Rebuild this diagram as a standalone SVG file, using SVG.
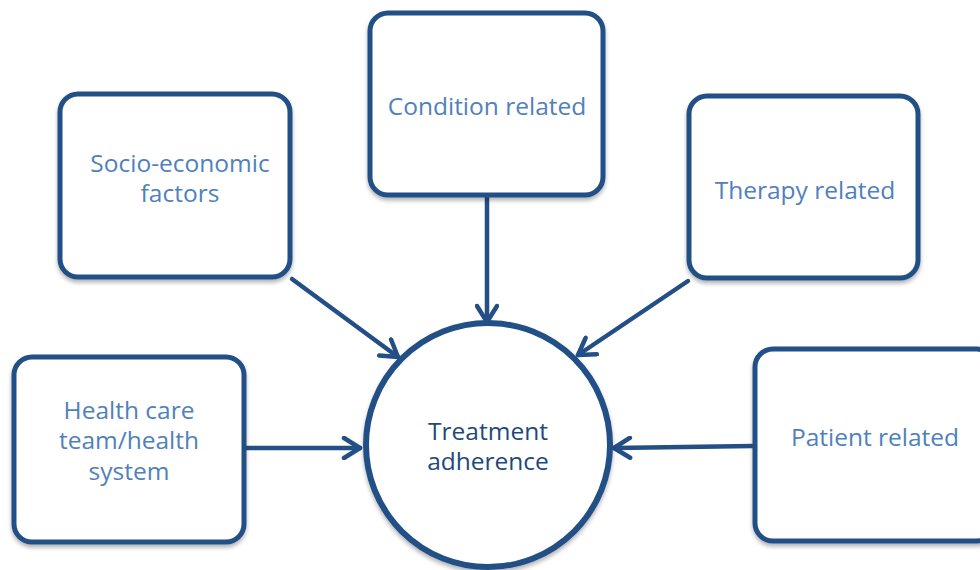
<svg xmlns="http://www.w3.org/2000/svg" width="980" height="570" viewBox="0 0 980 570">
  <style>
    .box { fill: #ffffff; stroke: #234f86; stroke-width: 5; filter: url(#shadow); }
    .hub { fill: #ffffff; stroke: #234f86; stroke-width: 6; filter: url(#shadow); }
    .lbl { font-family: "Open Sans", "Liberation Sans", sans-serif; font-size: 24.5px; fill: #4f81bd; text-anchor: middle; }
    .hubl { font-family: "Open Sans", "Liberation Sans", sans-serif; font-size: 24.5px; fill: #1f497d; text-anchor: middle; }
    .conn { fill: none; stroke: #234f86; stroke-width: 4.5; stroke-linecap: round; marker-end: url(#chev); }
  </style>
  <defs>
    <filter id="shadow" x="-10%" y="-10%" width="120%" height="125%">
      <feGaussianBlur in="SourceAlpha" stdDeviation="2"/>
      <feOffset dx="0" dy="3" result="b"/>
      <feComponentTransfer><feFuncA type="linear" slope="0.3"/></feComponentTransfer>
      <feMerge><feMergeNode/><feMergeNode in="SourceGraphic"/></feMerge>
    </filter>
    <marker id="chev" viewBox="-20 -12 24 24" markerWidth="24" markerHeight="24" refX="0" refY="0" orient="auto" markerUnits="userSpaceOnUse">
      <path d="M -16 -10 L 0 0 L -16 10" fill="none" stroke="#234f86" stroke-width="4.5" stroke-linecap="round" stroke-linejoin="round"/>
    </marker>
  </defs>

  <g id="connectors">
    <line class="conn" x1="487" y1="197" x2="487" y2="322"/>
    <line class="conn" x1="292" y1="279" x2="398" y2="357"/>
    <line class="conn" x1="688" y1="281" x2="578" y2="355"/>
    <line class="conn" x1="246" y1="448" x2="360" y2="448"/>
    <line class="conn" x1="753" y1="446" x2="614" y2="448"/>
  </g>

  <g id="socio">
    <rect class="box" x="60" y="94" width="230" height="183" rx="18"/>
    <text class="lbl" x="180" y="172">Socio-economic</text>
    <text class="lbl" x="180" y="202">factors</text>
  </g>

  <g id="condition">
    <rect class="box" x="370" y="13" width="233" height="182" rx="18"/>
    <text class="lbl" x="487" y="115">Condition related</text>
  </g>

  <g id="therapy">
    <rect class="box" x="689" y="96" width="229" height="182" rx="18"/>
    <text class="lbl" x="805" y="199">Therapy related</text>
  </g>

  <g id="healthcare">
    <rect class="box" x="14" y="357" width="230" height="185" rx="18"/>
    <text class="lbl" x="129" y="419">Health care</text>
    <text class="lbl" x="129" y="449">team/health</text>
    <text class="lbl" x="129" y="480">system</text>
  </g>

  <g id="patient">
    <rect class="box" x="755" y="349" width="240" height="192" rx="18"/>
    <text class="lbl" x="875" y="446">Patient related</text>
  </g>

  <g id="adherence">
    <circle class="hub" cx="488" cy="445" r="122"/>
    <text class="hubl" x="488" y="440">Treatment</text>
    <text class="hubl" x="488" y="470">adherence</text>
  </g>
</svg>
